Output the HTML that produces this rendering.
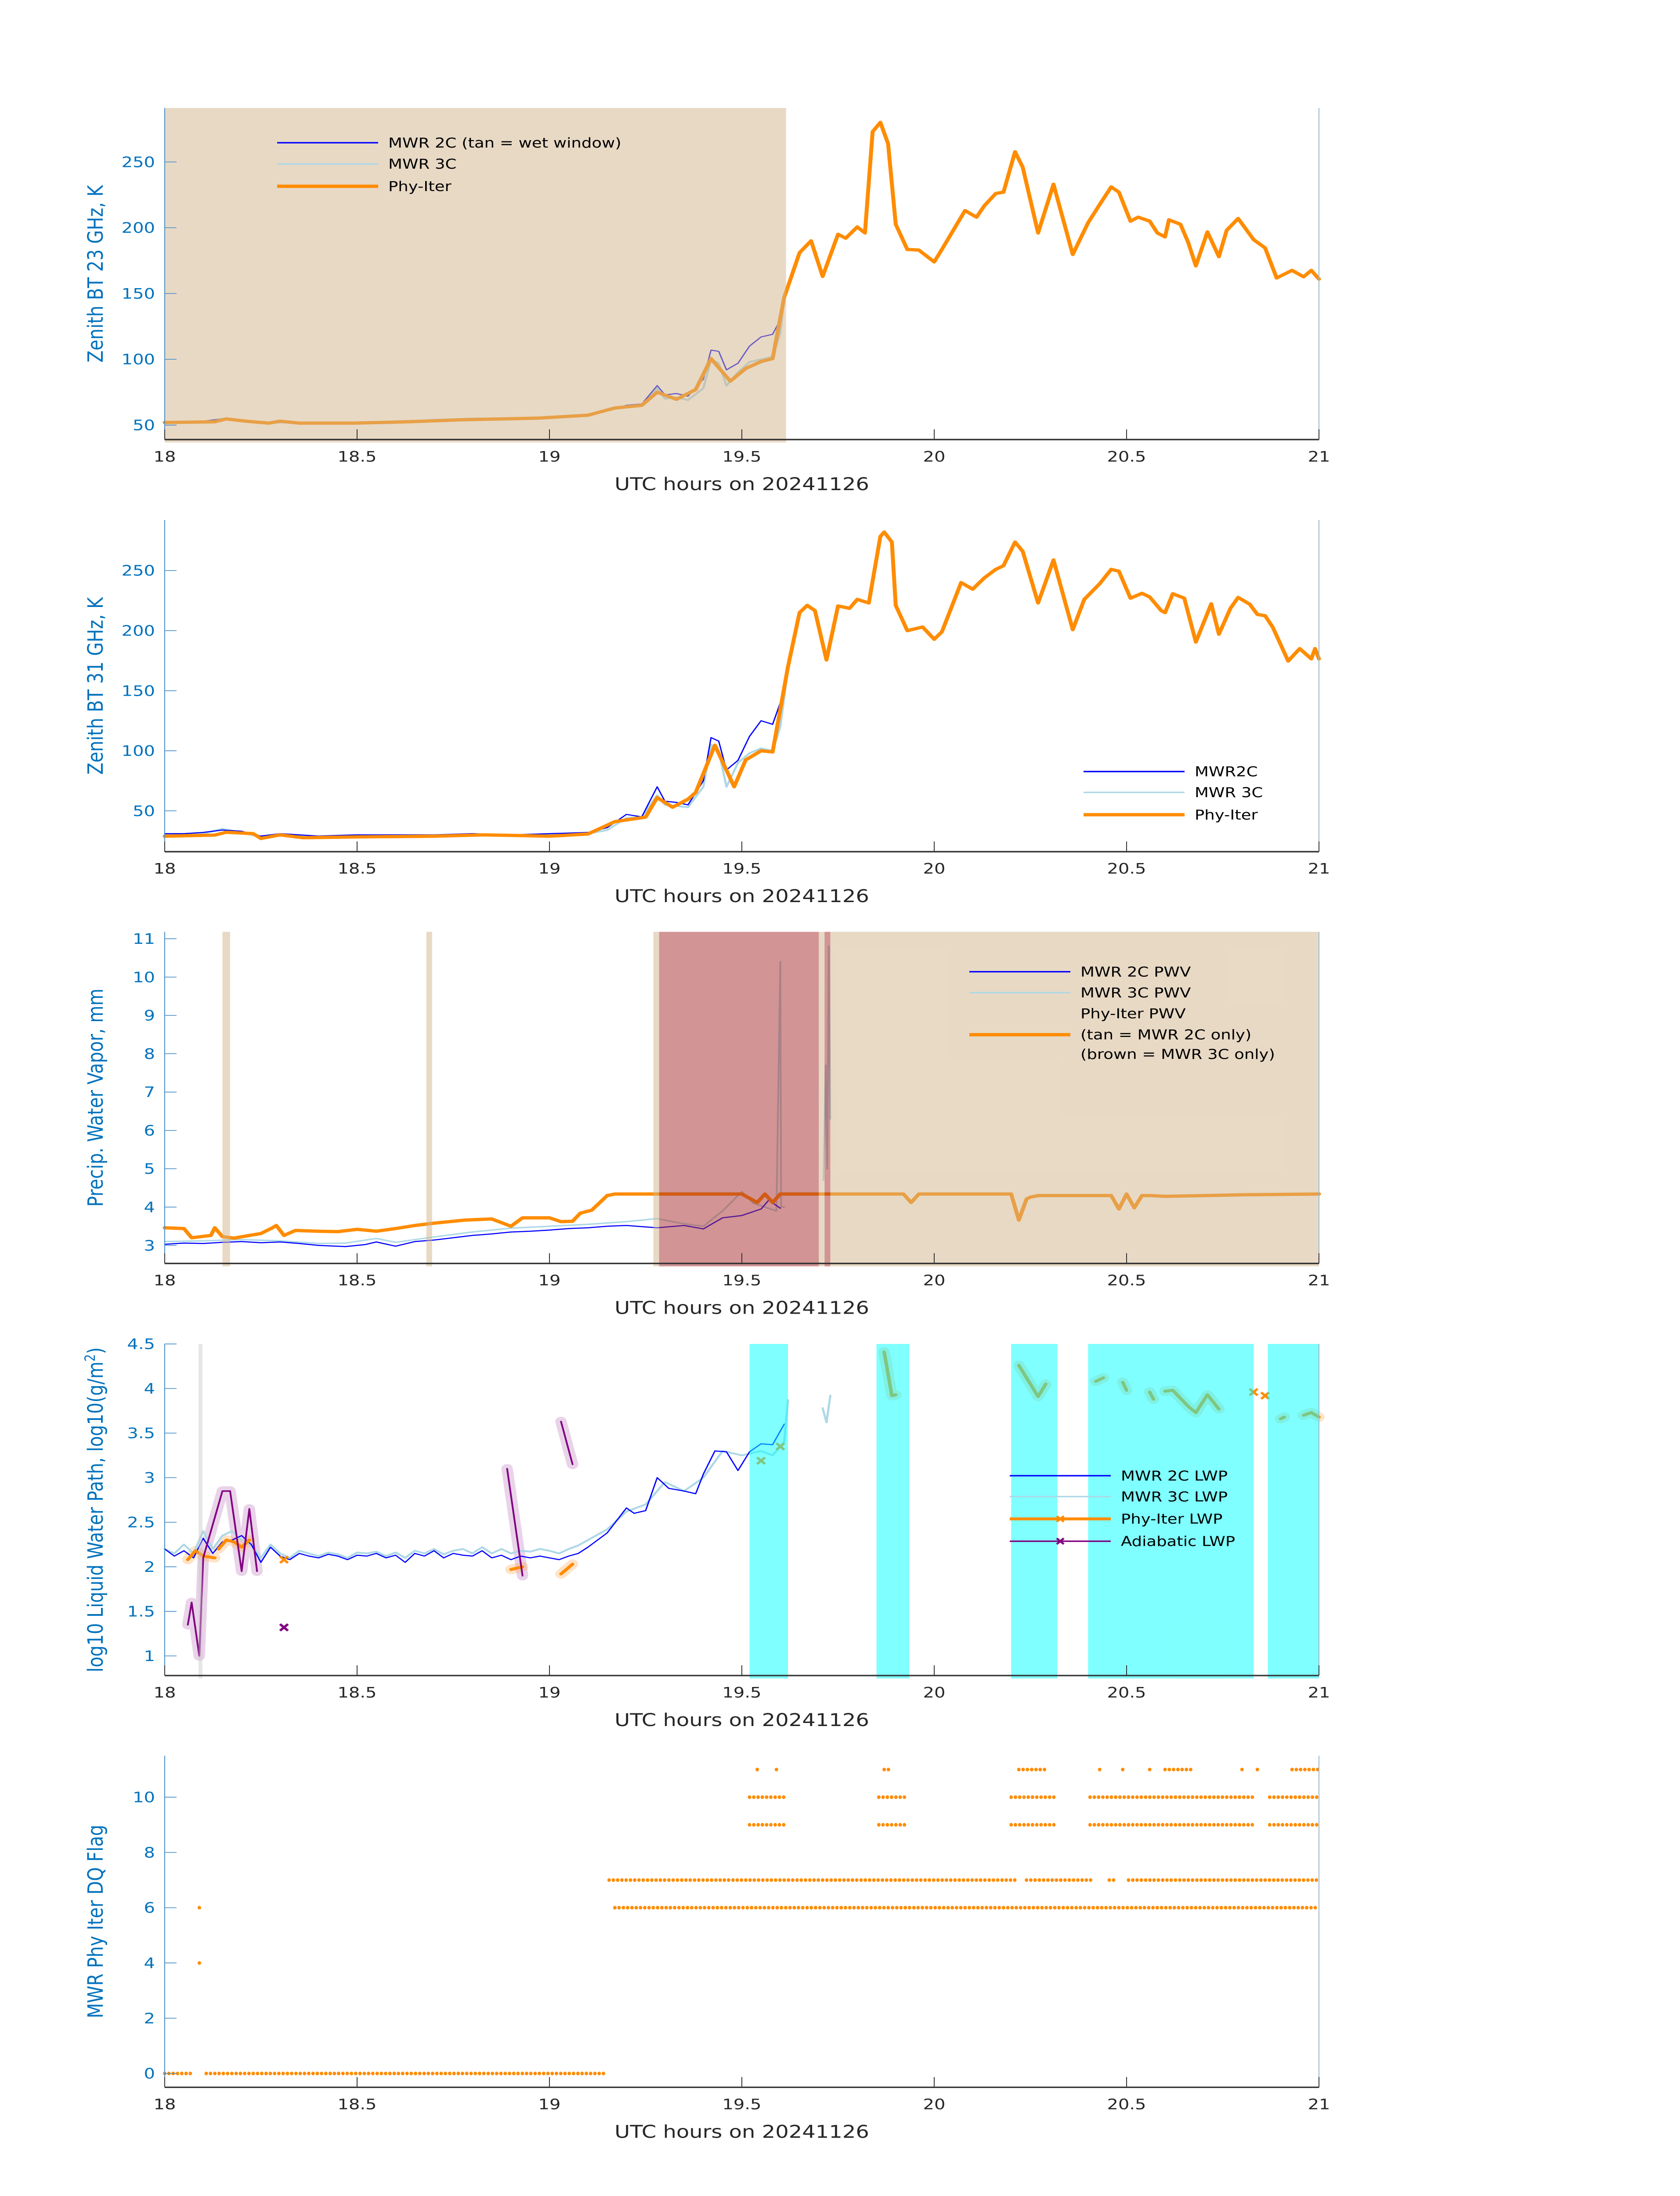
<!DOCTYPE html>
<html><head><meta charset="utf-8"><style>
html,body{margin:0;padding:0;background:#fff;width:100%;height:100%;overflow:hidden;}
svg{display:block;width:100vw;height:100vh;font-family:"DejaVu Sans","Liberation Sans",sans-serif;}
</style></head><body>
<svg id="chart" viewBox="0 0 3825 6000" preserveAspectRatio="none" xmlns="http://www.w3.org/2000/svg"></svg>
<script>
// ---------- Panel 1 : 23 GHz ----------
const p1OrangeT=[18,18.13,18.16,18.21,18.27,18.3,18.35,18.49,18.63,18.77,18.97,19.1,19.17,19.24,19.28,19.33,19.38,19.42,19.47,19.51,19.55,19.58,19.61,19.65,19.68,19.71,19.75,19.77,19.8,19.82,19.84,19.86,19.88,19.9,19.93,19.96,20.0,20.02,20.08,20.11,20.13,20.16,20.18,20.21,20.23,20.27,20.31,20.36,20.4,20.43,20.46,20.48,20.51,20.53,20.56,20.58,20.6,20.61,20.64,20.66,20.68,20.71,20.74,20.76,20.79,20.83,20.86,20.89,20.93,20.96,20.98,21.0];
const p1OrangeV=[52,52.5,54.7,53,51.5,53,51.5,51.5,52.5,54,55.3,57.5,63,65,75,69.6,77,100.5,83.4,93,98.3,100.5,147,181,190,163,195,192,200.6,196,273,280,264,202.6,183.5,183,174,183.5,213,208,216.6,226,227,257.7,246,196,233,179.7,203.8,217.6,231,227,205,208,205,196,193,206,202.6,188.9,171,196.8,178,198,207,191,184.6,161.8,167.6,162.7,167.6,161];
const p1BlueT=[18,18.05,18.1,18.15,18.2,18.25,18.3,18.4,18.5,18.6,18.7,18.8,18.9,19.0,19.1,19.15,19.2,19.24,19.28,19.3,19.33,19.36,19.4,19.42,19.44,19.46,19.49,19.52,19.55,19.58,19.6,19.61];
const p1BlueV=[52,52.5,53,54.5,53.5,52,52.5,51,51.5,53,54,55,55.5,56,58,61,65,66,80,73,74,72,85,107,106,92,97,110,117,119,130,148];
const p1ThreeV=[52,52,52.5,55,53,51.5,52,51,51.5,52.5,54,55,55,55.5,57.5,61,64,65,78,70,71,69,78,100,97,80,90,98,100,102,120,147];
// ---------- Panel 2 : 31 GHz ----------
const p2OrangeT=[18,18.13,18.16,18.23,18.25,18.3,18.36,18.5,18.7,18.83,19.0,19.1,19.17,19.25,19.28,19.32,19.36,19.38,19.43,19.48,19.51,19.55,19.58,19.62,19.65,19.67,19.69,19.72,19.75,19.78,19.8,19.83,19.86,19.87,19.89,19.9,19.93,19.97,20.0,20.02,20.07,20.1,20.13,20.16,20.18,20.21,20.23,20.27,20.31,20.36,20.39,20.43,20.46,20.48,20.51,20.54,20.56,20.59,20.6,20.62,20.65,20.68,20.72,20.74,20.77,20.79,20.82,20.84,20.86,20.88,20.92,20.95,20.98,20.99,21.0];
const p2OrangeV=[28.9,29.8,32.2,31,27,30,27.6,28.3,28.9,30,28.9,30.7,41,44.8,61,53,59.7,65.3,104.6,70,92.4,100,99,170,215,221,216.7,175.6,220.5,218.6,226,223,278.4,282,273.7,221,200,203,192.8,199,240,234.5,243.8,251,254,273.7,266,223,258.8,200.8,226,239,251,249.4,227,231,228,216.7,215,230.7,227,190.5,222.3,197,218.6,227.6,222,213.5,212.4,202.7,174.7,185,176.5,185,176.5];
const p2BlueT=[18,18.05,18.1,18.15,18.2,18.25,18.3,18.4,18.5,18.6,18.7,18.8,18.9,19.0,19.1,19.15,19.2,19.24,19.28,19.3,19.33,19.36,19.4,19.42,19.44,19.46,19.49,19.52,19.55,19.58,19.6,19.62];
const p2BlueV=[31,31,32,34,33,29,31,29,30,30,30,31,30,31,32,36,47,45,70,58,57,55,75,111,108,84,92,112,125,122,140,170];
const p2ThreeV=[30,30,31,35,32,28,30,28,29,29,29,30,29,30,31,34,44,45,63,55,54,53,70,105,100,70,90,98,102,100,120,168];
// ---------- Panel 3 : PWV ----------
const p3OrangeT=[18,18.05,18.07,18.12,18.13,18.15,18.18,18.22,18.25,18.28,18.29,18.31,18.34,18.4,18.45,18.5,18.55,18.6,18.65,18.7,18.78,18.85,18.9,18.93,18.97,19.0,19.03,19.06,19.08,19.11,19.15,19.17,19.5,19.54,19.56,19.58,19.6,19.62,19.92,19.94,19.96,20.2,20.22,20.24,20.25,20.27,20.46,20.48,20.5,20.52,20.54,20.56,20.6,20.8,21.0];
const p3OrangeV=[3.46,3.44,3.2,3.26,3.46,3.23,3.19,3.26,3.31,3.46,3.52,3.26,3.39,3.37,3.36,3.42,3.37,3.44,3.52,3.58,3.66,3.69,3.5,3.72,3.72,3.72,3.62,3.63,3.84,3.92,4.3,4.34,4.34,4.12,4.34,4.12,4.34,4.34,4.34,4.12,4.34,4.34,3.66,4.21,4.26,4.3,4.3,3.95,4.34,3.98,4.3,4.3,4.28,4.32,4.34];
const p3BlueT=[18,18.05,18.1,18.15,18.2,18.25,18.3,18.35,18.4,18.47,18.52,18.55,18.6,18.65,18.7,18.75,18.8,18.85,18.9,18.95,19.0,19.05,19.1,19.15,19.2,19.28,19.35,19.4,19.45,19.5,19.55,19.57,19.6];
const p3BlueV=[3.03,3.06,3.05,3.08,3.1,3.07,3.09,3.05,3.0,2.97,3.02,3.09,2.98,3.1,3.14,3.2,3.26,3.3,3.35,3.37,3.4,3.44,3.46,3.5,3.52,3.46,3.52,3.43,3.72,3.78,3.95,4.18,3.97];
const p3ThreeT=[18,18.1,18.2,18.3,18.4,18.47,18.55,18.6,18.7,18.8,18.9,19.0,19.1,19.2,19.28,19.33,19.36,19.4,19.45,19.5,19.53,19.56,19.59,19.6,19.602,19.61,null,19.712,19.718,19.722,19.726,19.73];
const p3ThreeV=[3.1,3.12,3.15,3.12,3.05,3.06,3.18,3.08,3.22,3.35,3.45,3.5,3.55,3.62,3.7,3.6,3.55,3.5,3.9,4.4,4.1,4.0,3.9,10.4,4.0,4.0,null,4.7,7.7,5.0,10.8,6.3];
const p3Tan=[[18.15,18.17],[18.68,18.695],[19.27,19.285],[19.70,19.715],[19.73,21.0]];
const p3Brown=[[19.285,19.70],[19.715,19.73]];
// ---------- Panel 4 : LWP ----------
const p4BlueT=[18,18.025,18.05,18.075,18.1,18.125,18.15,18.175,18.2,18.225,18.25,18.275,18.3,18.325,18.35,18.375,18.4,18.425,18.45,18.475,18.5,18.525,18.55,18.575,18.6,18.625,18.65,18.675,18.7,18.725,18.75,18.775,18.8,18.825,18.85,18.875,18.9,18.925,18.95,18.975,19.0,19.025,19.05,19.075,19.1,19.15,19.2,19.22,19.25,19.28,19.31,19.35,19.38,19.4,19.43,19.46,19.49,19.52,19.55,19.58,19.61];
const p4BlueV=[2.2,2.12,2.18,2.1,2.32,2.15,2.28,2.3,2.35,2.25,2.05,2.22,2.12,2.08,2.15,2.12,2.1,2.14,2.12,2.08,2.13,2.12,2.15,2.1,2.13,2.05,2.15,2.12,2.18,2.1,2.15,2.13,2.12,2.18,2.1,2.13,2.08,2.12,2.1,2.12,2.1,2.08,2.12,2.15,2.22,2.38,2.66,2.6,2.63,3.0,2.88,2.85,2.82,3.04,3.3,3.29,3.08,3.29,3.38,3.37,3.6];
const p4ThreeT=[18,18.025,18.05,18.075,18.1,18.125,18.15,18.175,18.2,18.225,18.25,18.275,18.3,18.325,18.35,18.375,18.4,18.425,18.45,18.475,18.5,18.525,18.55,18.575,18.6,18.625,18.65,18.675,18.7,18.725,18.75,18.775,18.8,18.825,18.85,18.875,18.9,18.925,18.95,18.975,19.0,19.025,19.05,19.075,19.1,19.15,19.2,19.25,19.3,19.35,19.4,19.45,19.5,19.55,19.58,19.61,19.62,null,19.71,19.72,19.73];
const p4ThreeV=[2.2,2.15,2.25,2.15,2.4,2.2,2.35,2.4,2.3,2.25,2.1,2.25,2.15,2.1,2.18,2.15,2.12,2.16,2.14,2.1,2.16,2.15,2.17,2.12,2.16,2.1,2.18,2.15,2.2,2.14,2.18,2.2,2.15,2.22,2.15,2.2,2.15,2.18,2.17,2.2,2.18,2.15,2.2,2.24,2.3,2.42,2.62,2.7,2.95,2.85,3.0,3.3,3.25,3.3,3.25,3.4,3.87,null,3.78,3.62,3.92];
const p4PhyT=[18.06,18.08,18.1,18.13,null,18.14,18.16,18.18,18.2,18.22,null,18.9,18.93,null,19.03,19.06,null,19.87,19.89,19.9,null,20.22,20.27,20.29,null,20.42,20.44,null,20.49,20.5,null,20.56,20.57,null,20.6,20.62,20.66,20.68,20.71,20.74,null,20.9,20.91,null,20.96,20.98,21.0];
const p4PhyV=[2.08,2.18,2.12,2.1,null,2.2,2.3,2.28,2.22,2.3,null,1.97,2.0,null,1.92,2.03,null,4.41,3.92,3.93,null,4.26,3.91,4.05,null,4.08,4.12,null,4.07,3.98,null,3.96,3.88,null,3.97,3.98,3.8,3.73,3.93,3.77,null,3.66,3.68,null,3.7,3.73,3.68];
const p4PhyMarkT=[18.31,19.55,19.6,20.83,20.86];
const p4PhyMarkV=[2.08,3.19,3.35,3.96,3.92];
const p4AdiT=[18.06,18.07,18.09,18.1,18.15,18.17,18.2,18.22,18.24,null,18.89,18.93,null,19.03,19.06];
const p4AdiV=[1.35,1.6,1.0,2.1,2.85,2.85,1.95,2.65,1.95,null,3.1,1.9,null,3.63,3.15];
const p4AdiMarkT=[18.31];
const p4AdiMarkV=[1.32];
const p4Cyan=[[19.52,19.62],[19.85,19.935],[20.2,20.32],[20.4,20.83],[20.867,21.0]];
const p4Gray=[[18.088,18.098]];
// ---------- Panel 5 : DQ flag ----------
const p5Flags=[0,0,4,6,7,7,7,7,6,9,9,9,9,9,10,10,10,10,10,11,11,11,11,11,11,11,11,11,11,11];
const p5Start=[18.0,18.108,18.09,18.09,19.155,20.24,20.455,20.505,19.17,19.52,19.856,20.2,20.405,20.872,19.52,19.856,20.2,20.405,20.872,19.54,19.59,19.87,20.22,20.43,20.49,20.56,20.6,20.8,20.84,20.93];
const p5End=[18.075,19.147,18.09,18.09,20.213,20.41,20.477,21.0,21.0,19.61,19.93,20.315,20.83,21.0,19.61,19.93,20.315,20.83,21.0,19.54,19.59,19.89,20.29,20.43,20.49,20.56,20.67,20.8,20.84,21.0];
const xTicks=[18,18.5,19,19.5,20,20.5,21];
const xTickLabels=["18","18.5","19","19.5","20","20.5","21"];

const NS="http://www.w3.org/2000/svg";
const svg=document.getElementById('chart');
const L=375,R=3003,H=906;
function mk(tag,attrs,parent){const e=document.createElementNS(NS,tag);for(const k in attrs)e.setAttribute(k,attrs[k]);(parent||svg).appendChild(e);return e;}
function X(t){return L+(t-18)/3*(R-L);}
function makeY(t0,lo,hi){return v=>t0+H-(v-lo)/(hi-lo)*H;}
function pathD(ts,vs,Y){let d="",pen=false;for(let i=0;i<ts.length;i++){if(ts[i]===null||vs[i]===null){pen=false;continue;}d+=(pen?"L":"M")+X(ts[i]).toFixed(1)+" "+Y(vs[i]).toFixed(1);pen=true;}return d;}
function line(ts,vs,Y,color,w,name,op){const p=mk('path',{d:pathD(ts,vs,Y),fill:'none',stroke:color,'stroke-width':w,'stroke-linejoin':'round','stroke-linecap':'round',opacity:op||1});


return p;}
function patches(ranges,t0,color,op,name){ranges.forEach(r=>{const e=mk('rect',{x:X(r[0]),y:t0,width:Math.max(2,X(r[1])-X(r[0])),height:H+8,fill:color,'fill-opacity':op});

});}
function xmark(t,v,Y,color,name){const cx=X(t),cy=Y(v),s=9;const e=mk('path',{d:`M${cx-s} ${cy-s}L${cx+s} ${cy+s}M${cx-s} ${cy+s}L${cx+s} ${cy-s}`,stroke:color,'stroke-width':6,fill:'none'});

}
function axes(t0,Y,yticks,ylab,name){const bot=t0+H;
const g=mk('g',{});


mk('line',{x1:L,y1:t0,x2:L,y2:bot,stroke:'#4a90c8','stroke-width':2},g);
mk('line',{x1:R,y1:t0,x2:R,y2:bot,stroke:'#9ab8cc','stroke-width':2},g);
xTicks.forEach((t,i)=>{mk('line',{x1:X(t),y1:bot,x2:X(t),y2:bot-28,stroke:'#333','stroke-width':2},g);
const tx=mk('text',{x:X(t),y:bot+60,'text-anchor':'middle','font-size':40,fill:'#262626'},g);tx.textContent=xTickLabels[i];

});
mk('line',{x1:L,y1:bot,x2:R,y2:bot,stroke:'#333','stroke-width':4},g);
yticks.forEach(v=>{mk('line',{x1:L,y1:Y(v),x2:L+27,y2:Y(v),stroke:'#4a90c8','stroke-width':2},g);
const tx=mk('text',{x:L-22,y:Y(v)+14,'text-anchor':'end','font-size':40,fill:'#0072BD'},g);tx.textContent=String(v);

});
const xl=mk('text',{x:1689,y:bot+138,'text-anchor':'middle','font-size':48,fill:'#262626'},g);xl.textContent='UTC hours on 20241126';


const yl=mk('text',{x:0,y:0,'text-anchor':'middle','font-size':48,fill:'#0072BD',transform:`translate(234 ${t0+H/2}) rotate(-90)`},g);


if(typeof ylab==='object'){const a=mk('tspan',{},yl);a.textContent=ylab.main;const b=mk('tspan',{'font-size':32,dy:-18},yl);b.textContent=ylab.up;const c=mk('tspan',{dy:18},yl);c.textContent=ylab.tail;}
else{yl.textContent=ylab;}}
function legend(x,ys,items,name){const g=mk('g',{});


items.forEach((it,i)=>{if(it.c){mk('line',{x1:x,y1:ys[i],x2:x+230,y2:ys[i],stroke:it.c,'stroke-width':it.w},g);}
if(it.m){const cx=x+115,cy=ys[i],s=8;mk('path',{d:`M${cx-s} ${cy-s}L${cx+s} ${cy+s}M${cx-s} ${cy+s}L${cx+s} ${cy-s}`,stroke:it.m,'stroke-width':5},g);}
const t=mk('text',{x:x+253,y:ys[i]+13,'font-size':37,fill:'#000'},g);t.textContent=it.t;

});}

const ORG='#ff8c00',BLU='#0000ff',LB='#add8e6',PUR='#800080';
// Panel 1
let pTop=295,Y=makeY(pTop,39,291);
line(p1BlueT,p1ThreeV,Y,LB,5,'mwr3c-23ghz-line');
line(p1BlueT,p1BlueV,Y,BLU,3,'mwr2c-23ghz-line');
line(p1OrangeT,p1OrangeV,Y,ORG,9,'phyiter-23ghz-line');
patches([[18,19.615]],pTop,'#d2b48c',0.5,'wet-window-patch');
axes(pTop,Y,[50,100,150,200,250],'Zenith BT 23 GHz, K','panel-23ghz');
legend(631,[390,448,509],[{c:BLU,w:4,t:'MWR 2C (tan = wet window)'},{c:LB,w:4,t:'MWR 3C'},{c:ORG,w:9,t:'Phy-Iter'}],'legend-23ghz');
// Panel 2
pTop=1421;Y=makeY(pTop,16,292);
line(p2BlueT,p2ThreeV,Y,LB,5,'mwr3c-31ghz-line');
line(p2BlueT,p2BlueV,Y,BLU,3,'mwr2c-31ghz-line');
line(p2OrangeT,p2OrangeV,Y,ORG,9,'phyiter-31ghz-line');
axes(pTop,Y,[50,100,150,200,250],'Zenith BT 31 GHz, K','panel-31ghz');
legend(2467,[2108,2165,2226],[{c:BLU,w:4,t:'MWR2C'},{c:LB,w:4,t:'MWR 3C'},{c:ORG,w:9,t:'Phy-Iter'}],'legend-31ghz');
// Panel 3
pTop=2546;Y=makeY(pTop,2.53,11.18);
line(p3ThreeT,p3ThreeV,Y,LB,4,'mwr3c-pwv-line');
line(p3BlueT,p3BlueV,Y,BLU,3,'mwr2c-pwv-line');
line(p3OrangeT,p3OrangeV,Y,ORG,9,'phyiter-pwv-line');
patches(p3Tan,pTop,'#d2b48c',0.5,'tan-mwr2c-only-patch');
patches(p3Brown,pTop,'#a52a2a',0.5,'brown-mwr3c-only-patch');
axes(pTop,Y,[3,4,5,6,7,8,9,10,11],'Precip. Water Vapor, mm','panel-pwv');
legend(2207,[2655,2712,2769,2827,2880],[{c:BLU,w:4,t:'MWR 2C PWV'},{c:LB,w:4,t:'MWR 3C PWV'},{t:'Phy-Iter PWV'},{c:ORG,w:9,t:'(tan = MWR 2C only)'},{t:'(brown = MWR 3C only)'}],'legend-pwv');
// Panel 4
pTop=3672;Y=makeY(pTop,0.78,4.5);
line(p4AdiT,p4AdiV,Y,'#c080c0',26,'adiabatic-lwp-uncertainty',0.35);
line(p4PhyT,p4PhyV,Y,'#ffb060',26,'phyiter-lwp-uncertainty',0.35);
line(p4ThreeT,p4ThreeV,Y,LB,5,'mwr3c-lwp-line');
line(p4BlueT,p4BlueV,Y,BLU,3,'mwr2c-lwp-line');
line(p4PhyT,p4PhyV,Y,ORG,8,'phyiter-lwp-line');
line(p4AdiT,p4AdiV,Y,PUR,4,'adiabatic-lwp-line');
p4PhyMarkT.forEach((t,i)=>xmark(t,p4PhyMarkV[i],Y,ORG,'phyiter-lwp-marker'));
p4AdiMarkT.forEach((t,i)=>xmark(t,p4AdiMarkV[i],Y,PUR,'adiabatic-lwp-marker'));
patches(p4Cyan,pTop,'#00ffff',0.5,'cyan-flag-patch');
patches(p4Gray,pTop,'#c8c8c8',0.45,'gray-flag-patch');
axes(pTop,Y,[1,1.5,2,2.5,3,3.5,4,4.5],{main:'log10 Liquid Water Path, log10(g/m',up:'2',tail:')'},'panel-lwp');
legend(2299,[4032,4089,4150,4211],[{c:BLU,w:4,t:'MWR 2C LWP'},{c:LB,w:4,t:'MWR 3C LWP'},{c:ORG,w:8,m:ORG,t:'Phy-Iter LWP'},{c:PUR,w:4,m:PUR,t:'Adiabatic LWP'}],'legend-lwp');
// Panel 5
pTop=4797;Y=makeY(pTop,-0.5,11.5);
const STEP=0.0111;
const dots=mk('g',{fill:ORG});


p5Flags.forEach((f,i)=>{for(let t=p5Start[i];t<=p5End[i]+1e-6;t+=STEP){const c=mk('ellipse',{cx:X(t).toFixed(1),cy:Y(f).toFixed(1),rx:4,ry:5},dots);

}});
axes(pTop,Y,[0,2,4,6,8,10],'MWR Phy Iter DQ Flag','panel-dq-flag');
</script>
</body></html>
